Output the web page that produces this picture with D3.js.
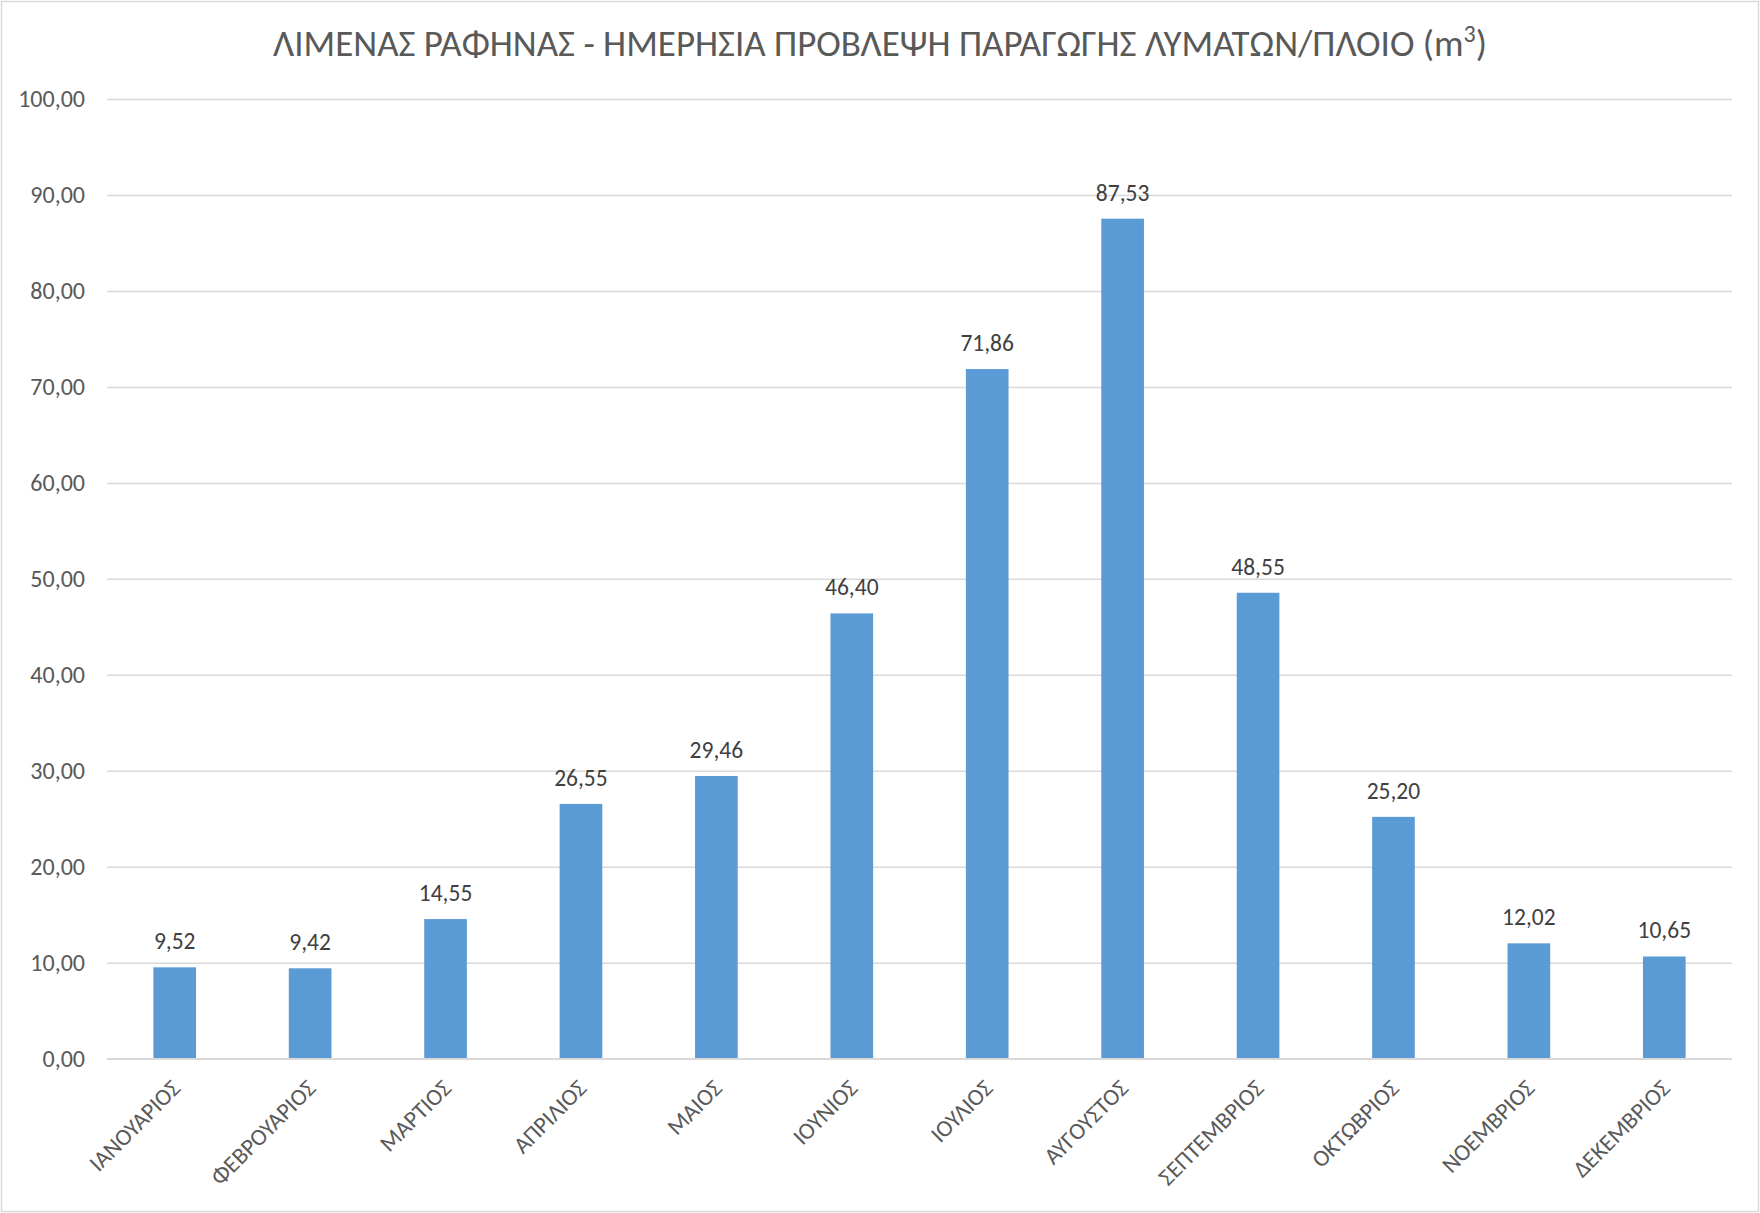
<!DOCTYPE html>
<html>
<head>
<meta charset="utf-8">
<script src="https://cdn.jsdelivr.net/npm/d3@7"></script>
<style>
  html, body { margin: 0; padding: 0; background: #fff; }
  svg { display: block; font-family: Carlito, Calibri, "Open Sans", sans-serif; }
</style>
</head>
<body>
<div id="chart"></div>
<script>
// chart size
const WIDTH = 1760;
const HEIGHT = 1213;
const MARGIN = { TOP: 99, RIGHT: 28, BOTTOM: 154, LEFT: 107 };
const FONT = "Carlito, Calibri, 'Open Sans', sans-serif";

// data
const months = ["ΙΑΝΟΥΑΡΙΟΣ", "ΦΕΒΡΟΥΑΡΙΟΣ", "ΜΑΡΤΙΟΣ", "ΑΠΡΙΛΙΟΣ", "ΜΑΙΟΣ", "ΙΟΥΝΙΟΣ",
    "ΙΟΥΛΙΟΣ", "ΑΥΓΟΥΣΤΟΣ", "ΣΕΠΤΕΜΒΡΙΟΣ", "ΟΚΤΩΒΡΙΟΣ", "ΝΟΕΜΒΡΙΟΣ", "ΔΕΚΕΜΒΡΙΟΣ"];
const values = [9.52, 9.42, 14.55, 26.55, 29.46, 46.40, 71.86, 87.53, 48.55, 25.20, 12.02, 10.65];
const yTicks = [0, 10, 20, 30, 40, 50, 60, 70, 80, 90, 100];

// greek number format: 12,34
const locale = d3.formatLocale({ decimal: ",", thousands: ".", grouping: [3], currency: ["", "€"] });
const fmt = locale.format(".2f");

let svg = d3.select("#chart").append("svg")
    .attr("width", WIDTH)
    .attr("height", HEIGHT);

// outer chart border
svg.append("rect")
    .attr("x", 1.5).attr("y", 1.5)
    .attr("width", WIDTH - 3).attr("height", HEIGHT - 3)
    .attr("fill", "#fff")
    .attr("stroke", "#d9d9d9")
    .attr("stroke-width", 1.5);

let xScale = d3.scaleBand()
    .domain(months)
    .range([MARGIN.LEFT, WIDTH - MARGIN.RIGHT])
    .paddingInner(0.685)
    .paddingOuter(0.3425);

let yScale = d3.scaleLinear()
    .domain([0, 100])
    .range([HEIGHT - MARGIN.BOTTOM - 0.3, MARGIN.TOP]);

// gridlines + y labels
let yAxis = d3.axisLeft(yScale)
    .tickValues(yTicks)
    .tickSize(-(WIDTH - MARGIN.LEFT - MARGIN.RIGHT))
    .tickPadding(22)
    .tickFormat(fmt);

svg.append("g")
    .attr("class", "y axis")
    .attr("transform", "translate(" + MARGIN.LEFT + ",0)")
    .call(yAxis)
    .call(g => g.select(".domain").remove())
    .call(g => g.selectAll(".tick line").attr("stroke", "#d9d9d9").attr("stroke-width", 1.5))
    .call(g => g.selectAll(".tick text")
        .attr("fill", "#595959")
        .attr("font-size", 24)
        .attr("font-family", FONT));

// bars
svg.selectAll(".bar")
    .data(values)
    .enter()
    .append("rect")
    .attr("class", "bar")
    .attr("x", (d, i) => xScale(months[i]))
    .attr("width", xScale.bandwidth())
    .attr("y", d => yScale(d))
    .attr("height", d => yScale(0) - yScale(d))
    .attr("fill", "#5b9bd5");

// baseline redrawn over bars
svg.append("line")
    .attr("x1", MARGIN.LEFT).attr("x2", WIDTH - MARGIN.RIGHT)
    .attr("y1", yScale(0)).attr("y2", yScale(0))
    .attr("stroke", "#d9d9d9")
    .attr("stroke-width", 1.5);

// data labels
svg.selectAll(".label")
    .data(values)
    .enter()
    .append("text")
    .attr("class", "label")
    .attr("x", (d, i) => xScale(months[i]) + xScale.bandwidth() / 2)
    .attr("y", d => yScale(d) - 18)
    .attr("text-anchor", "middle")
    .attr("font-size", 23.5)
    .attr("fill", "#404040")
    .text(d => fmt(d));

// x labels rotated
let xAxis = d3.axisBottom(xScale)
    .tickSize(0)
    .tickPadding(0);

svg.append("g")
    .attr("class", "x axis")
    .attr("transform", "translate(0," + yScale(0) + ")")
    .call(xAxis)
    .call(g => g.select(".domain").remove())
    .call(g => g.selectAll(".tick text")
        .attr("fill", "#595959")
        .attr("font-size", 23.5)
        .attr("font-family", FONT)
        .attr("text-anchor", "end")
        .attr("dy", null)
        .attr("y", 0)
        .attr("transform", "translate(7,31) rotate(-45)"));

// title
let title = svg.append("text")
    .attr("x", WIDTH / 2)
    .attr("y", 56)
    .attr("text-anchor", "middle")
    .attr("font-size", 37)
    .attr("fill", "#595959")
    .text("ΛΙΜΕΝΑΣ ΡΑΦΗΝΑΣ - ΗΜΕΡΗΣΙΑ ΠΡΟΒΛΕΨΗ ΠΑΡΑΓΩΓΗΣ ΛΥΜΑΤΩΝ/ΠΛΟΙΟ (m");
title.append("tspan")
    .attr("font-size", 24)
    .attr("dy", -14)
    .text("3");
title.append("tspan")
    .attr("dy", 14)
    .text(")");
</script>
</body>
</html>
